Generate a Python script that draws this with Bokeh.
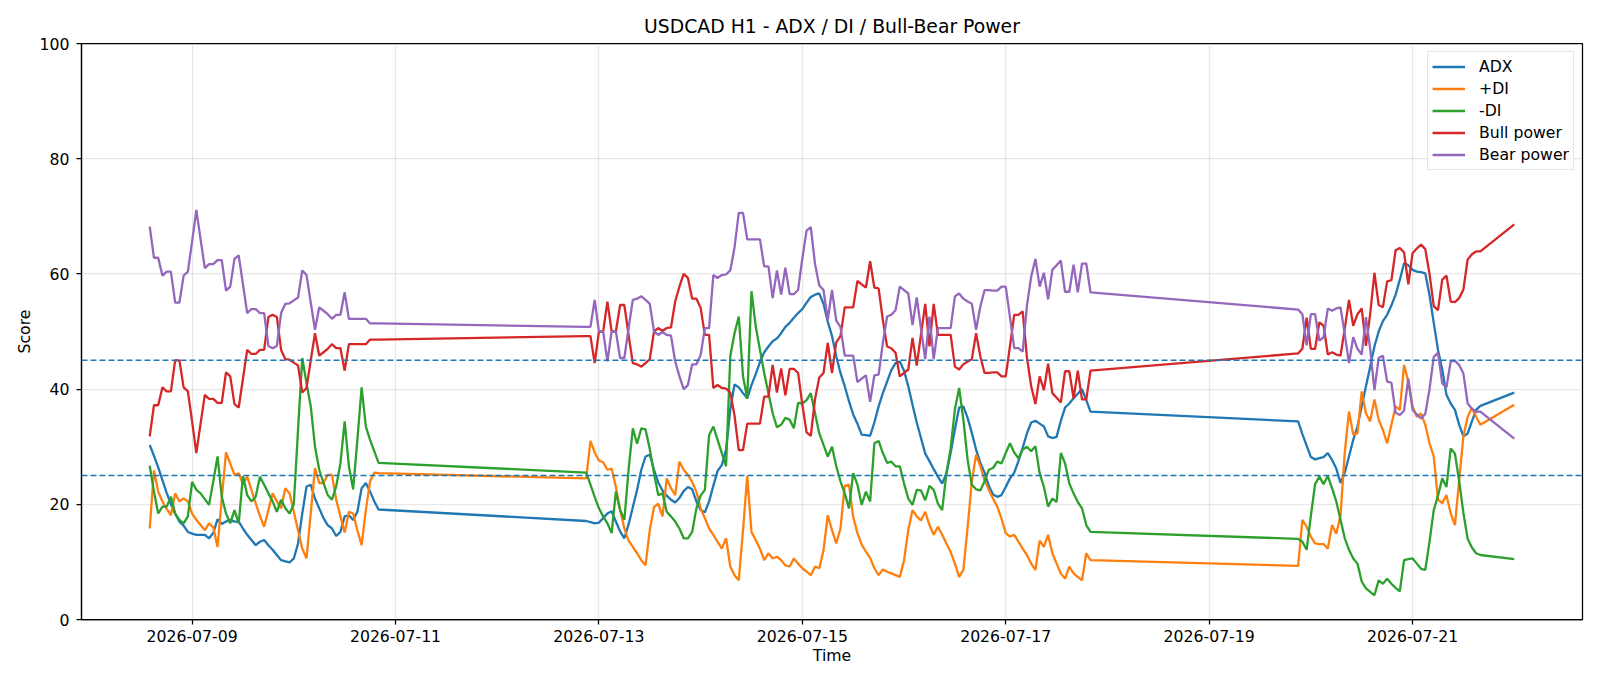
import pandas as pd
from bokeh.plotting import figure
from bokeh.models import ColumnDataSource, Span, FixedTicker, DatetimeTickFormatter, Range1d
from bokeh.embed import file_html
from bokeh.resources import INLINE

# Hourly bars, one block per trading session (weekends have no bars),
# plus the final bar of the series.
SESSIONS = [
    ("2026-07-08 14:00", "2026-07-10 20:00"),
    ("2026-07-12 21:00", "2026-07-17 20:00"),
    ("2026-07-19 21:00", "2026-07-21 16:00"),
]
LAST_BAR = "2026-07-22 00:00"

adx = [
    30.3, 28.4, 26.4, 24.2, 22.0, 20.0, 18.4, 17.0, 16.3, 15.2,
    14.9, 14.7, 14.7, 14.7, 14.1, 15.0, 17.4, 16.6, 17.0, 17.3,
    17.0, 17.0, 15.8, 14.7, 13.8, 12.9, 13.5, 13.8, 12.9, 12.1,
    11.2, 10.3, 10.1, 9.9, 10.6, 13.2, 18.4, 23.1, 23.4, 21.0,
    19.3, 17.6, 16.4, 15.8, 14.5, 15.2, 17.9, 18.1, 17.3, 18.7,
    22.8, 23.7, 22.2, 20.5, 19.1,
    17.1, 16.9, 16.7, 16.8, 17.6, 18.4, 18.8, 17.0, 15.3, 14.1,
    16.5, 19.5, 22.5, 26.0, 28.3, 28.6, 26.0, 23.8, 22.4, 21.5,
    20.8, 20.3, 21.1, 22.3, 23.0, 22.6, 20.5, 19.0, 18.6, 20.5,
    23.2, 25.8, 26.8, 29.5, 36.5, 40.8, 40.3, 39.3, 38.4, 40.7,
    42.6, 44.7, 46.4, 47.4, 48.3, 48.8, 49.7, 50.8, 51.5, 52.4,
    53.2, 53.9, 55.0, 56.0, 56.4, 56.6, 54.8, 51.7, 49.2, 45.7,
    42.8, 40.5, 37.9, 35.6, 34.0, 32.1, 32.0, 31.9, 34.2, 37.0,
    39.3, 41.3, 43.3, 44.5, 44.8, 43.2, 40.5, 37.3, 34.2, 31.5,
    28.8, 27.5, 26.1, 24.8, 23.6, 25.4, 28.9, 33.0, 36.8, 37.0,
    35.0, 32.4, 29.5, 27.2, 25.5, 23.2, 21.7, 21.3, 21.6, 23.0,
    24.5, 25.5, 27.5, 29.8, 32.3, 34.2, 34.5, 34.0, 33.5, 31.8,
    31.5, 31.7, 34.5, 36.8, 37.5, 38.4, 39.2, 40.0, 38.1, 36.1,
    34.4, 32.2, 30.2, 28.2, 27.8, 28.0, 28.2, 28.9, 27.7, 26.2,
    23.7, 25.5, 28.3, 31.2, 33.5, 37.0, 40.5, 43.9, 47.4, 50.0,
    51.8, 52.9, 54.5, 56.4, 59.0, 61.9, 61.5, 60.7, 60.4, 60.3,
    60.1, 56.3, 51.5, 46.8, 43.4, 39.0, 37.5, 36.4, 33.8, 31.8,
    32.3, 34.4, 36.4, 37.1,
    39.4,
]

plus_di = [
    15.8, 25.9, 22.2, 20.5, 19.2, 18.1, 21.9, 20.5, 21.0, 20.5,
    18.4, 17.3, 16.4, 15.5, 16.7, 16.0, 12.6, 21.0, 29.0, 27.1,
    25.1, 25.4, 23.5, 24.8, 22.5, 20.2, 18.0, 16.1, 19.0, 21.9,
    20.5, 19.3, 22.8, 21.9, 18.7, 15.5, 12.3, 10.6, 18.5, 26.3,
    23.7, 23.7, 25.1, 25.1, 20.8, 17.9, 15.1, 18.7, 18.4, 15.5,
    12.9, 19.0, 24.0, 25.5, 25.4,
    24.5, 31.0, 29.0, 27.6, 27.3, 26.0, 26.2, 23.0, 19.0, 15.8,
    13.7, 12.6, 11.5, 10.3, 9.4, 15.5, 19.5, 20.1, 17.9, 24.5,
    22.8, 21.6, 27.4, 26.0, 25.1, 23.9, 22.2, 19.3, 17.6, 15.8,
    14.7, 13.5, 12.3, 14.1, 9.2, 7.7, 6.8, 15.5, 24.9, 15.2,
    13.8, 12.3, 10.3, 11.5, 10.6, 10.9, 10.3, 9.4, 9.2, 10.6,
    9.7, 8.9, 8.3, 7.7, 9.2, 8.9, 12.0, 18.1, 15.5, 13.2,
    15.8, 23.2, 23.4, 17.8, 15.0, 13.0, 11.8, 10.7, 8.9, 7.7,
    8.7, 8.3, 8.0, 7.7, 7.4, 10.3, 15.5, 19.0, 17.9, 17.2,
    18.7, 16.4, 14.7, 16.1, 14.7, 13.2, 11.7, 9.7, 7.4, 8.6,
    16.0, 24.0, 28.6, 26.6, 24.2, 22.5, 21.0, 19.6, 17.5, 15.0,
    14.4, 14.7, 13.5, 12.3, 11.2, 9.7, 8.6, 13.7, 12.6, 14.7,
    11.5, 9.7, 8.0, 7.1, 9.2, 8.0, 7.4, 6.8, 11.5, 10.3,
    9.3, 17.3, 16.1, 14.4, 13.2, 13.1, 13.1, 12.3, 16.4, 14.9,
    18.1, 29.0, 36.1, 32.1, 32.3, 39.6, 35.8, 34.4, 38.2, 34.7,
    32.9, 30.6, 33.8, 37.0, 36.4, 44.2, 41.3, 37.0, 35.2, 35.8,
    33.8, 30.6, 28.3, 20.8, 20.2, 21.6, 18.4, 16.4, 24.2, 31.8,
    35.2, 36.7, 35.2, 33.8,
    37.3,
]

minus_di = [
    26.7, 22.2, 18.4, 19.6, 19.6, 21.3, 18.4, 17.3, 16.7, 17.9,
    23.9, 22.5, 21.9, 20.9, 19.9, 24.0, 28.3, 21.3, 18.4, 16.7,
    19.0, 16.7, 24.9, 21.6, 20.5, 21.3, 24.8, 23.4, 21.9, 20.5,
    18.7, 20.8, 19.3, 18.4, 20.0, 33.0, 45.4, 41.0, 37.0, 30.0,
    26.0, 23.7, 21.6, 20.8, 23.1, 27.1, 34.4, 26.6, 22.6, 31.2,
    40.3, 33.5, 31.2, 29.2, 27.2,
    25.5, 23.4, 21.3, 19.3, 17.9, 16.7, 15.0, 22.2, 19.0, 17.3,
    26.0, 33.2, 30.5, 33.2, 33.0, 29.6, 25.4, 21.6, 21.9, 18.7,
    17.9, 17.0, 15.8, 14.1, 14.1, 15.2, 19.3, 21.5, 22.5, 32.0,
    33.5, 31.2, 28.9, 26.6, 45.7, 49.7, 52.6, 42.2, 38.4, 57.0,
    50.9, 46.8, 42.8, 39.3, 35.8, 33.4, 33.8, 35.0, 34.7, 33.2,
    37.6, 37.5, 38.1, 39.3, 35.8, 32.3, 30.3, 28.3, 30.0, 26.6,
    24.0, 21.9, 19.3, 25.4, 23.4, 19.9, 22.2, 20.5, 30.6, 31.0,
    28.9, 27.2, 27.4, 26.6, 26.6, 23.6, 21.0, 19.9, 22.5, 22.4,
    20.7, 23.2, 22.5, 20.1, 19.0, 25.4, 29.7, 36.5, 40.2, 34.7,
    27.7, 23.4, 22.6, 22.4, 24.0, 26.0, 26.3, 27.4, 27.1, 28.9,
    30.6, 29.0, 28.0, 29.5, 30.0, 29.2, 30.1, 25.4, 23.0, 19.6,
    21.0, 20.4, 28.9, 27.1, 23.6, 21.9, 20.4, 19.3, 16.4, 15.2,
    14.0, 13.5, 12.1, 18.0, 23.5, 24.8, 23.5, 24.9, 22.8, 20.5,
    17.3, 14.1, 12.1, 10.6, 9.7, 6.6, 5.4, 4.8, 4.2, 6.8,
    6.2, 7.1, 6.2, 5.5, 4.9, 10.3, 10.5, 10.6, 9.7, 8.8,
    8.6, 13.5, 19.0, 21.5, 24.5, 23.0, 29.7, 28.8, 24.0, 18.5,
    14.0, 12.5, 11.5, 11.2,
    10.5,
]

bull_power = [
    31.8, 37.2, 37.2, 40.3, 39.6, 39.6, 45.0, 45.0, 40.3, 39.6,
    34.4, 28.9, 34.0, 39.0, 38.3, 38.3, 37.6, 37.6, 42.9, 42.2,
    37.4, 36.8, 41.8, 46.8, 46.1, 46.1, 46.8, 46.8, 52.5, 52.9,
    52.5, 46.8, 45.2, 45.1, 44.6, 44.1, 39.4, 40.2, 45.0, 49.7,
    45.8, 46.4, 47.0, 47.8, 47.1, 47.1, 43.2, 47.8, 47.8, 47.8,
    47.8, 47.8, 48.6, 48.6, 48.6,
    49.2, 49.2, 44.5, 50.0, 50.0, 55.2, 50.0, 50.0, 54.6, 54.6,
    49.4, 44.5, 44.3, 43.9, 44.5, 45.2, 50.0, 50.6, 50.1, 50.6,
    50.7, 55.2, 57.8, 60.0, 59.3, 55.7, 55.7, 54.1, 49.4, 49.4,
    40.2, 40.7, 40.2, 40.1, 39.4, 35.4, 29.4, 29.4, 34.0, 34.0,
    34.0, 34.0, 38.7, 38.7, 44.2, 39.4, 43.6, 38.9, 43.5, 43.5,
    42.8, 37.3, 32.5, 31.9, 38.3, 42.0, 42.8, 48.0, 42.8, 48.1,
    49.2, 54.2, 54.2, 54.2, 58.8, 58.2, 57.6, 62.2, 57.6, 57.5,
    52.0, 47.4, 47.1, 46.3, 42.2, 42.8, 43.4, 48.9, 44.1, 49.5,
    54.8, 47.4, 54.8, 49.4, 49.4, 49.4, 49.4, 43.9, 43.4, 44.3,
    44.8, 45.2, 49.7, 45.7, 42.8, 42.8, 42.9, 42.9, 42.2, 42.2,
    47.5, 52.9, 52.9, 53.5, 45.5, 40.5, 37.4, 42.2, 39.8, 44.4,
    39.3, 38.5, 37.7, 43.1, 43.1, 38.4, 43.2, 38.2, 38.2, 43.2,
    46.2, 47.0, 52.4, 47.0, 47.0, 51.6, 51.0, 46.0, 46.4, 46.0,
    45.8, 50.5, 55.5, 51.0, 53.0, 54.0, 47.5, 53.0, 60.2, 54.6,
    54.2, 58.7, 58.9, 64.1, 64.5, 63.7, 58.2, 63.6, 64.4, 65.1,
    64.3, 60.0, 54.4, 53.7, 59.0, 59.7, 55.2, 55.1, 55.8, 57.3,
    62.5, 63.4, 63.9, 63.9,
    68.6,
]

bear_power = [
    68.2, 62.8, 62.8, 59.7, 60.4, 60.4, 55.0, 55.0, 59.7, 60.4,
    65.6, 71.1, 66.0, 61.0, 61.7, 61.7, 62.4, 62.4, 57.1, 57.8,
    62.6, 63.2, 58.2, 53.2, 53.9, 53.9, 53.2, 53.2, 47.5, 47.1,
    47.5, 53.2, 54.8, 54.9, 55.4, 55.9, 60.6, 59.8, 55.0, 50.3,
    54.2, 53.6, 53.0, 52.2, 52.9, 52.9, 56.8, 52.2, 52.2, 52.2,
    52.2, 52.2, 51.4, 51.4, 51.4,
    50.8, 50.8, 55.5, 50.0, 50.0, 44.8, 50.0, 50.0, 45.4, 45.4,
    50.6, 55.5, 55.7, 56.1, 55.5, 54.8, 50.0, 49.4, 49.9, 49.4,
    49.3, 44.8, 42.2, 40.0, 40.7, 44.3, 44.3, 45.9, 50.6, 50.6,
    59.8, 59.3, 59.8, 59.9, 60.6, 64.6, 70.6, 70.6, 66.0, 66.0,
    66.0, 66.0, 61.3, 61.3, 55.8, 60.6, 56.4, 61.1, 56.5, 56.5,
    57.2, 62.7, 67.5, 68.1, 61.7, 58.0, 57.2, 52.0, 57.2, 51.9,
    50.8, 45.8, 45.8, 45.8, 41.2, 41.8, 42.4, 37.8, 42.4, 42.5,
    48.0, 52.6, 52.9, 53.7, 57.8, 57.2, 56.6, 51.1, 55.9, 50.5,
    45.2, 52.6, 45.2, 50.6, 50.6, 50.6, 50.6, 56.1, 56.6, 55.7,
    55.2, 54.8, 50.3, 54.3, 57.2, 57.2, 57.1, 57.1, 57.8, 57.8,
    52.5, 47.1, 47.1, 46.5, 54.5, 59.5, 62.6, 57.8, 60.2, 55.6,
    60.7, 61.5, 62.3, 56.9, 56.9, 61.6, 56.8, 61.8, 61.8, 56.8,
    53.8, 53.0, 47.6, 53.0, 53.0, 48.4, 49.0, 54.0, 53.6, 54.0,
    54.2, 49.5, 44.5, 49.0, 47.0, 46.0, 52.5, 47.0, 39.8, 45.4,
    45.8, 41.3, 41.1, 35.9, 35.5, 36.3, 41.8, 36.4, 35.6, 34.9,
    35.7, 40.0, 45.6, 46.3, 41.0, 40.3, 44.8, 44.9, 44.2, 42.7,
    37.5, 36.6, 36.1, 36.1,
    31.4,
]

SERIES = [
    ("ADX", adx, "#1f77b4"),
    ("+DI", plus_di, "#ff7f0e"),
    ("-DI", minus_di, "#2ca02c"),
    ("Bull power", bull_power, "#d62728"),
    ("Bear power", bear_power, "#9467bd"),
]

THRESHOLDS = [45, 25]
TICK_DATES = ["2026-07-09", "2026-07-11", "2026-07-13", "2026-07-15",
              "2026-07-17", "2026-07-19", "2026-07-21"]

times = pd.DatetimeIndex([])
for start, end in SESSIONS:
    times = times.append(pd.date_range(start, end, freq="h"))
times = times.append(pd.DatetimeIndex([LAST_BAR]))

source = ColumnDataSource(data=dict(
    time=times, adx=adx, plus_di=plus_di, minus_di=minus_di,
    bull=bull_power, bear=bear_power,
))
columns = ["adx", "plus_di", "minus_di", "bull", "bear"]

# 5 % padding on both sides of the time axis
pad = (times[-1] - times[0]) * 0.05
x_start = (times[0] - pad).to_pydatetime()
x_end = (times[-1] + pad).to_pydatetime()

FONT = "DejaVu Sans"
TEXT_SIZE = "15.7px"

p = figure(
    width=1600, height=686,
    x_axis_type="datetime",
    x_range=Range1d(x_start, x_end),
    y_range=Range1d(0, 100),
    output_backend="svg",
    toolbar_location=None,
    title="USDCAD H1 - ADX / DI / Bull-Bear Power",
    min_border_left=81, min_border_right=18,
    min_border_top=43, min_border_bottom=67,
)
p.background_fill_color = "white"
p.border_fill_color = "white"
p.outline_line_color = "black"
p.outline_line_width = 1.25

p.title.align = "center"
p.title.text_font = FONT
p.title.text_font_size = "18.8px"
p.title.text_font_style = "normal"
p.title.text_color = "black"
p.title.standoff = 13

for ax in (p.xaxis[0], p.yaxis[0]):
    ax.axis_line_color = "black"
    ax.axis_line_width = 1.25
    ax.major_tick_line_color = "black"
    ax.major_tick_line_width = 1.25
    ax.major_tick_out = 5
    ax.major_tick_in = 0
    ax.minor_tick_line_color = None
    ax.major_label_text_font = FONT
    ax.major_label_text_font_size = TEXT_SIZE
    ax.major_label_text_color = "black"
    ax.axis_label_text_font = FONT
    ax.axis_label_text_font_size = TEXT_SIZE
    ax.axis_label_text_font_style = "normal"
    ax.axis_label_text_color = "black"

p.xaxis.axis_label = "Time"
p.xaxis.ticker = FixedTicker(ticks=[pd.Timestamp(d).value / 1e6 for d in TICK_DATES])
fmt = "%Y-%m-%d"
p.xaxis.formatter = DatetimeTickFormatter(
    years=fmt, months=fmt, days=fmt, hours=fmt, hourmin=fmt,
    minutes=fmt, minsec=fmt, seconds=fmt, milliseconds=fmt, microseconds=fmt,
)
p.xaxis.major_label_standoff = 5
p.xaxis.axis_label_standoff = 1

p.yaxis.axis_label = "Score"
p.yaxis.ticker = FixedTicker(ticks=[0, 20, 40, 60, 80, 100])
p.yaxis.major_label_standoff = 7
p.yaxis.axis_label_standoff = 3

p.grid.grid_line_color = "#b0b0b0"
p.grid.grid_line_alpha = 0.3
p.grid.grid_line_width = 1.25
p.xgrid.ticker = p.xaxis.ticker
p.ygrid.ticker = p.yaxis.ticker

for (label, _, color), col in zip(SERIES, columns):
    p.line("time", col, source=source, line_color=color, line_width=2.3,
           legend_label=label)

for level in THRESHOLDS:
    p.add_layout(Span(location=level, dimension="width", line_color="#1f77b4",
                      line_width=1.5, line_dash="6 3"))

leg = p.legend[0]
leg.location = "top_right"
leg.margin = 8
leg.padding = 4
leg.spacing = 1
leg.glyph_width = 33
leg.glyph_height = 21
leg.label_height = 21
leg.label_standoff = 14
leg.label_text_font = FONT
leg.label_text_font_size = TEXT_SIZE
leg.label_text_color = "black"
leg.border_line_color = "#cccccc"
leg.border_line_width = 1
leg.background_fill_alpha = 0.8

open("out.html", "w").write(file_html(p, INLINE))
